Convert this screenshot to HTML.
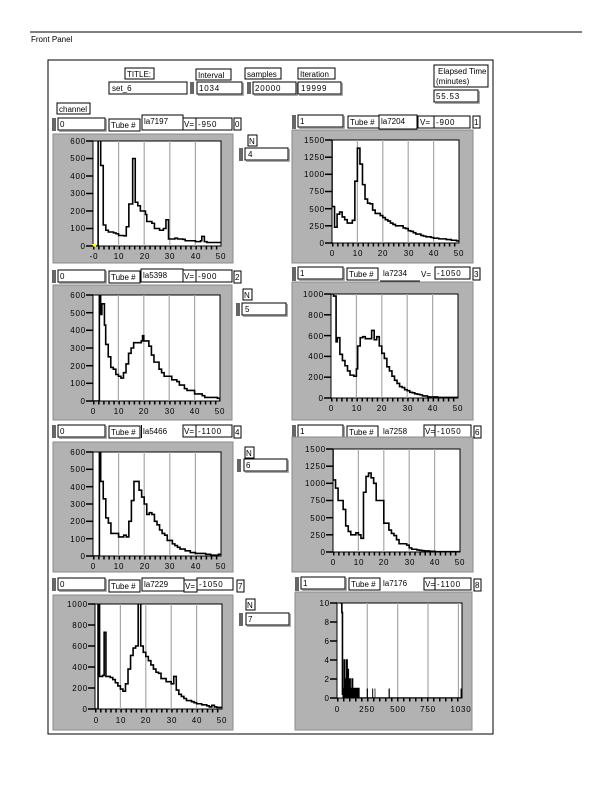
<!DOCTYPE html>
<html><head><meta charset="utf-8">
<style>
html,body{margin:0;padding:0;background:#fff;}
svg{display:block;}
text{font-family:"Liberation Sans",sans-serif;font-size:8px;fill:#000;}
.t{letter-spacing:0.8px;}
.g{fill:#b2b2b2;stroke:#8a8a8a;stroke-width:1;}
.p{fill:#fff;stroke:#000;stroke-width:1;}
.grid line{stroke:#a8a8a8;stroke-width:1.2;}
.d{fill:none;stroke:#000;stroke-width:1.6;vector-effect:non-scaling-stroke;}
.lb{fill:#fff;stroke:#000;stroke-width:1;}
.vb{fill:#fff;stroke:#000;stroke-width:1;}
.sh{fill:none;stroke:#8a8a8a;stroke-width:1.5;}
.tk line{stroke:#000;stroke-width:1.5;}
</style></head><body>
<svg width="612" height="792" viewBox="0 0 612 792" xmlns="http://www.w3.org/2000/svg">
<defs>
<clipPath id="cL1"><rect x="93" y="141" width="128" height="105"/></clipPath>
<clipPath id="cL2"><rect x="93" y="295" width="127" height="106"/></clipPath>
<clipPath id="cL3"><rect x="93" y="452" width="128" height="104"/></clipPath>
<clipPath id="cL4"><rect x="95" y="604" width="127" height="105"/></clipPath>
<clipPath id="cR1"><rect x="332" y="140" width="127" height="103"/></clipPath>
<clipPath id="cR2"><rect x="331" y="294" width="127" height="104"/></clipPath>
<clipPath id="cR3"><rect x="333" y="449" width="127" height="103"/></clipPath>
<clipPath id="cR4"><rect x="337" y="603" width="125" height="95"/></clipPath>
</defs>

<line x1="30" y1="32" x2="582" y2="32" stroke="#000" stroke-width="1"/>
<text x="31" y="42">Front Panel</text>
<rect x="48" y="60" width="445" height="674" fill="none" stroke="#000" stroke-width="1"/>

<!-- top controls -->
<rect class="lb" x="125" y="68" width="29" height="11"/><text x="127" y="77">TITLE:</text>
<rect class="vb" x="109" y="82" width="78" height="12"/><text x="112" y="91">set_6</text>
<rect class="lb" x="196" y="69" width="35" height="11"/><text x="198" y="78">Interval</text>
<rect x="190" y="82" width="4" height="12" fill="#666"/>
<rect class="vb" x="197" y="82" width="45" height="12"/><path class="sh" d="M198,95H243V83"/><text class="t" x="199" y="91">1034</text>
<rect class="lb" x="245" y="68" width="36" height="11"/><text x="247" y="77">samples</text>
<rect x="247" y="82" width="4" height="12" fill="#666"/>
<rect class="vb" x="253" y="82" width="43" height="12"/><path class="sh" d="M254,95H297V83"/><text class="t" x="255" y="91">20000</text>
<rect class="lb" x="298" y="68" width="37" height="11"/><text x="300" y="77">Iteration</text>
<rect class="vb" x="298" y="82" width="43" height="12"/><path class="sh" d="M299,95H342V83"/><text class="t" x="301" y="91">19999</text>
<rect class="lb" x="434" y="65" width="54" height="22"/><text x="438" y="74">Elapsed Time</text><text x="436" y="84">(minutes)</text>
<rect class="vb" x="434" y="90" width="44" height="12"/><path class="sh" d="M435,103H479V91"/><text class="t" x="436" y="99">55.53</text>
<rect class="lb" x="57" y="103" width="33" height="11"/><text x="59" y="112">channel</text>

<!-- N controls -->
<rect class="lb" x="248" y="135" width="9" height="11"/><text x="249" y="144">N</text>
<rect x="239" y="148" width="4" height="13" fill="#666"/><rect class="vb" x="245" y="148" width="43" height="12"/><path class="sh" d="M246,161H289V149"/><text x="248" y="157">4</text>
<rect class="lb" x="243" y="289" width="9" height="11"/><text x="244" y="298">N</text>
<rect x="236" y="303" width="4" height="13" fill="#666"/><rect class="vb" x="242" y="303" width="44" height="12"/><path class="sh" d="M243,316H287V304"/><text x="245" y="312">5</text>
<rect class="lb" x="245" y="447" width="9" height="11"/><text x="246" y="456">N</text>
<rect x="237" y="459" width="4" height="13" fill="#666"/><rect class="vb" x="244" y="459" width="43" height="12"/><path class="sh" d="M245,472H288V460"/><text x="246" y="468">6</text>
<rect class="lb" x="246" y="599" width="9" height="11"/><text x="247" y="608">N</text>
<rect x="239" y="613" width="4" height="13" fill="#666"/><rect class="vb" x="246" y="613" width="43" height="12"/><path class="sh" d="M247,626H290V614"/><text x="248" y="622">7</text>

<!-- Left control rows -->
<g>
<rect x="52" y="118" width="4" height="13" fill="#666"/><rect class="vb" x="58" y="118" width="47" height="12"/><path class="sh" d="M59,131H106V119"/><text x="60" y="127">0</text>
<rect class="lb" x="109" y="119" width="31" height="12"/><text x="111" y="128">Tube #</text>
<rect class="lb" x="142" y="115" width="41" height="15"/><text x="144" y="124">la7197</text>
<rect class="lb" x="183" y="118" width="13" height="12"/><text x="184" y="127">V=</text>
<rect class="vb" x="196" y="118" width="36" height="12"/><text class="t" x="198" y="127">-950</text>
<rect class="lb" x="234" y="118" width="7" height="12"/><text x="235" y="127">0</text>
</g>
<g>
<rect x="52" y="270" width="4" height="13" fill="#666"/><rect class="vb" x="58" y="270" width="47" height="12"/><path class="sh" d="M59,283H106V271"/><text x="60" y="279">0</text>
<rect class="lb" x="109" y="271" width="31" height="12"/><text x="111" y="280">Tube #</text>
<rect class="lb" x="141" y="269" width="42" height="13"/><text x="143" y="278">la5398</text>
<rect class="lb" x="183" y="270" width="13" height="12"/><text x="184" y="279">V=</text>
<rect class="vb" x="196" y="270" width="36" height="12"/><text class="t" x="198" y="279">-900</text>
<rect class="lb" x="234" y="271" width="7" height="12"/><text x="235" y="280">2</text>
</g>
<g>
<rect x="52" y="425" width="4" height="13" fill="#666"/><rect class="vb" x="58" y="425" width="47" height="12"/><path class="sh" d="M59,438H106V426"/><text x="60" y="434">0</text>
<rect class="lb" x="109" y="426" width="31" height="12"/><text x="111" y="435">Tube #</text>
<rect x="141" y="425" width="1" height="13" fill="#000"/><text x="143" y="434">la5466</text>
<rect class="lb" x="183" y="425" width="13" height="12"/><text x="184" y="434">V=</text>
<rect class="vb" x="196" y="425" width="36" height="12"/><text class="t" x="198" y="434">-1100</text>
<rect class="lb" x="234" y="426" width="7" height="12"/><text x="235" y="435">4</text>
</g>
<g>
<rect x="52" y="578" width="4" height="13" fill="#666"/><rect class="vb" x="58" y="578" width="47" height="12"/><path class="sh" d="M59,591H106V579"/><text x="60" y="587">0</text>
<rect class="lb" x="109" y="580" width="31" height="12"/><text x="111" y="589">Tube #</text>
<rect class="lb" x="142" y="578" width="42" height="13"/><text x="144" y="587">la7229</text>
<rect class="lb" x="184" y="580" width="13" height="12"/><text x="185" y="589">V=</text>
<rect class="vb" x="197" y="578" width="36" height="12"/><text class="t" x="199" y="587">-1050</text>
<rect class="lb" x="237" y="580" width="7" height="12"/><text x="238" y="589">7</text>
</g>

<!-- Right control rows -->
<g>
<rect x="292" y="115" width="4" height="14" fill="#666"/><rect class="vb" x="298" y="115" width="45" height="12"/><path class="sh" d="M299,128H344V116"/><text x="300" y="124">1</text>
<rect class="lb" x="348" y="116" width="31" height="12"/><text x="350" y="125">Tube #</text>
<rect class="lb" x="379" y="115" width="38" height="14"/><text x="381" y="124">la7204</text>
<rect class="lb" x="418" y="116" width="16" height="12"/><text x="420" y="125">V=</text>
<rect class="vb" x="434" y="116" width="36" height="12"/><text class="t" x="436" y="125">-900</text>
<rect class="lb" x="473" y="116" width="7" height="12"/><text x="474" y="125">1</text>
</g>
<g>
<rect x="292" y="267" width="4" height="14" fill="#666"/><rect class="vb" x="298" y="267" width="45" height="12"/><path class="sh" d="M299,280H344V268"/><text x="300" y="276">1</text>
<rect class="lb" x="347" y="268" width="31" height="12"/><text x="349" y="277">Tube #</text>
<rect x="380" y="267" width="40" height="14" fill="#fff"/><path d="M380,281H420" stroke="#000"/><text x="383" y="276">la7234</text>
<text x="421" y="277">V=</text>
<rect class="vb" x="435" y="267" width="35" height="12"/><text class="t" x="437" y="276">-1050</text>
<rect class="lb" x="473" y="268" width="7" height="12"/><text x="474" y="277">3</text>
</g>
<g>
<rect x="292" y="425" width="4" height="14" fill="#666"/><rect class="vb" x="298" y="425" width="45" height="12"/><path class="sh" d="M299,438H344V426"/><text x="300" y="434">1</text>
<rect class="lb" x="347" y="426" width="31" height="12"/><text x="349" y="435">Tube #</text>
<text x="383" y="434">la7258</text>
<rect class="lb" x="424" y="425" width="11" height="12"/><text x="425" y="434">V=</text>
<rect class="vb" x="435" y="425" width="36" height="12"/><text class="t" x="437" y="434">-1050</text>
<rect class="lb" x="474" y="426" width="7" height="12"/><text x="475" y="435">6</text>
</g>
<g>
<rect x="295" y="577" width="4" height="14" fill="#666"/><rect class="vb" x="301" y="577" width="44" height="12"/><path class="sh" d="M302,590H346V578"/><text x="303" y="586">1</text>
<rect class="lb" x="349" y="578" width="31" height="12"/><text x="351" y="587">Tube #</text>
<text x="383" y="586">la7176</text>
<rect class="lb" x="424" y="578" width="11" height="12"/><text x="425" y="587">V=</text>
<rect class="vb" x="435" y="578" width="36" height="12"/><text class="t" x="437" y="587">-1100</text>
<rect class="lb" x="474" y="579" width="7" height="12"/><text x="475" y="588">8</text>
</g>

<!-- ===== Graph L1 ===== -->
<rect class="g" x="53" y="134" width="180" height="129"/>
<rect class="p" x="93" y="141" width="128" height="105"/>
<g class="grid"><line x1="118.6" y1="141" x2="118.6" y2="246"/><line x1="144.2" y1="141" x2="144.2" y2="246"/><line x1="169.8" y1="141" x2="169.8" y2="246"/><line x1="195.4" y1="141" x2="195.4" y2="246"/></g>
<g clip-path="url(#cL1)"><path class="d" transform="translate(93,246) scale(2.56,-0.175)" d="M0,0 H2 V1000 H3 V460 H4 V120 H5 V90 H6 V80 H8 V75 H9 V70 H10 V60 H12 V58 H13 V110 H14 V240 H15.5 V500 H16.5 V250 H17.5 V230 H18.5 V200 H20.5 V180 H21 V140 H23 V130 H24 V100 H26 V90 H27.5 V100 H28.5 V150 H29.5 V40 H32 V45 H33 V40 H35 V38 H36 V30 H40 V25 H42 V30 H42.5 V55 H43.5 V25 H44.5 V20 H50"/></g>
<rect x="92" y="244" width="4" height="3" fill="#ff0"/>
<g class="tk"><line x1="86" y1="141" x2="93" y2="141"/><line x1="86" y1="158.5" x2="93" y2="158.5"/><line x1="86" y1="176" x2="93" y2="176"/><line x1="86" y1="193.5" x2="93" y2="193.5"/><line x1="86" y1="211" x2="93" y2="211"/><line x1="86" y1="228.5" x2="93" y2="228.5"/><line x1="86" y1="246" x2="93" y2="246"/></g>
<line x1="93" y1="248" x2="221" y2="248" stroke="#000" stroke-width="3" stroke-dasharray="1.5 3.62"/>
<g text-anchor="end"><text class="t" x="86" y="144">600</text><text class="t" x="86" y="161">500</text><text class="t" x="86" y="179">400</text><text class="t" x="86" y="196">300</text><text class="t" x="86" y="214">200</text><text class="t" x="86" y="231">100</text><text x="85" y="249">0</text></g>
<g text-anchor="middle"><text class="t" x="94" y="259">-0</text><text class="t" x="119" y="259">10</text><text class="t" x="145" y="259">20</text><text class="t" x="170" y="259">30</text><text class="t" x="196" y="259">40</text><text class="t" x="221" y="259">50</text></g>

<!-- ===== Graph L2 ===== -->
<rect class="g" x="53" y="285" width="179" height="135"/>
<rect class="p" x="93" y="295" width="127" height="106"/>
<g class="grid"><line x1="118.4" y1="295" x2="118.4" y2="401"/><line x1="143.8" y1="295" x2="143.8" y2="401"/><line x1="169.2" y1="295" x2="169.2" y2="401"/><line x1="194.6" y1="295" x2="194.6" y2="401"/></g>
<g clip-path="url(#cL2)"><path class="d" transform="translate(93,401) scale(2.54,-0.1767)" d="M0,0 H2.5 V1000 H3 V490 H3.5 V550 H4.5 V430 H5 V320 H6 V250 H7 V190 H8 V180 H9 V150 H10 V140 H11 V130 H12 V160 H13 V210 H14 V270 H15 V300 H16 V330 H19 V340 H19.5 V370 H20 V340 H22 V310 H23 V260 H24 V220 H26 V180 H27 V160 H28 V140 H31 V120 H33 V110 H34 V90 H36 V70 H37 V60 H40 V40 H43 V30 H44 V20 H49 V15 H50 V0"/></g>
<g class="tk"><line x1="86" y1="295" x2="93" y2="295"/><line x1="86" y1="312.7" x2="93" y2="312.7"/><line x1="86" y1="330.3" x2="93" y2="330.3"/><line x1="86" y1="348" x2="93" y2="348"/><line x1="86" y1="365.7" x2="93" y2="365.7"/><line x1="86" y1="383.3" x2="93" y2="383.3"/><line x1="86" y1="401" x2="93" y2="401"/></g>
<line x1="93" y1="403" x2="220" y2="403" stroke="#000" stroke-width="3" stroke-dasharray="1.5 3.58"/>
<g text-anchor="end"><text class="t" x="86" y="298">600</text><text class="t" x="86" y="316">500</text><text class="t" x="86" y="333">400</text><text class="t" x="86" y="351">300</text><text class="t" x="86" y="369">200</text><text class="t" x="86" y="386">100</text><text x="85" y="404">0</text></g>
<g text-anchor="middle"><text x="93" y="414">0</text><text class="t" x="119" y="414">10</text><text class="t" x="144" y="414">20</text><text class="t" x="170" y="414">30</text><text class="t" x="195" y="414">40</text><text class="t" x="220" y="414">50</text></g>

<!-- ===== Graph L3 ===== -->
<rect class="g" x="53" y="442" width="180" height="130"/>
<rect class="p" x="93" y="452" width="128" height="104"/>
<g class="grid"><line x1="118.6" y1="452" x2="118.6" y2="556"/><line x1="144.2" y1="452" x2="144.2" y2="556"/><line x1="169.8" y1="452" x2="169.8" y2="556"/><line x1="195.4" y1="452" x2="195.4" y2="556"/></g>
<g clip-path="url(#cL3)"><path class="d" transform="translate(93,556) scale(2.56,-0.1733)" d="M0,0 H2.5 V1000 H3 V430 H4 V330 H5 V220 H6 V190 H7 V130 H10 V110 H12 V120 H13 V110 H14 V200 H15 V320 H16 V430 H18 V380 H19 V340 H20 V300 H21 V240 H22 V250 H23 V240 H24 V200 H25 V180 H26 V150 H27 V130 H28 V120 H29 V90 H31 V70 H32 V60 H33 V50 H34 V40 H36 V30 H38 V20 H40 V15 H44 V10 H46 V5 H49 V10 H50"/></g>
<g class="tk"><line x1="86" y1="452" x2="93" y2="452"/><line x1="86" y1="469.3" x2="93" y2="469.3"/><line x1="86" y1="486.7" x2="93" y2="486.7"/><line x1="86" y1="504" x2="93" y2="504"/><line x1="86" y1="521.3" x2="93" y2="521.3"/><line x1="86" y1="538.7" x2="93" y2="538.7"/><line x1="86" y1="556" x2="93" y2="556"/></g>
<line x1="93" y1="558" x2="221" y2="558" stroke="#000" stroke-width="3" stroke-dasharray="1.5 3.62"/>
<g text-anchor="end"><text class="t" x="86" y="455">600</text><text class="t" x="86" y="472">500</text><text class="t" x="86" y="490">400</text><text class="t" x="86" y="507">300</text><text class="t" x="86" y="524">200</text><text class="t" x="86" y="542">100</text><text x="85" y="559">0</text></g>
<g text-anchor="middle"><text x="93" y="569">0</text><text class="t" x="119" y="569">10</text><text class="t" x="145" y="569">20</text><text class="t" x="170" y="569">30</text><text class="t" x="196" y="569">40</text><text class="t" x="221" y="569">50</text></g>

<!-- ===== Graph L4 ===== -->
<rect class="g" x="53" y="595" width="180" height="135"/>
<rect class="p" x="95" y="604" width="127" height="105"/>
<g class="grid"><line x1="120.4" y1="604" x2="120.4" y2="709"/><line x1="145.8" y1="604" x2="145.8" y2="709"/><line x1="171.2" y1="604" x2="171.2" y2="709"/><line x1="196.6" y1="604" x2="196.6" y2="709"/></g>
<g clip-path="url(#cL4)"><path class="d" transform="translate(95,709) scale(2.54,-0.105)" d="M0,0 H1.2 V2000 H1.8 V310 H3 V320 H3.6 V730 H4.3 V310 H6 V300 H7 V280 H8 V250 H9 V220 H10 V190 H11 V170 H12 V240 H13 V380 H14 V510 H15 V580 H16 V600 H17 V2000 H18 V600 H19 V540 H20 V500 H21 V460 H22 V420 H23 V380 H24 V350 H25 V340 H26 V290 H28 V260 H30 V240 H31 V310 H32 V180 H33 V140 H34 V120 H35 V100 H36 V80 H38 V70 H39 V60 H40 V50 H42 V40 H44 V30 H45 V20 H46 V35 H47 V20 H48 V15 H50"/></g>
<g class="tk"><line x1="88" y1="604" x2="95" y2="604"/><line x1="88" y1="625" x2="95" y2="625"/><line x1="88" y1="646" x2="95" y2="646"/><line x1="88" y1="667" x2="95" y2="667"/><line x1="88" y1="688" x2="95" y2="688"/><line x1="88" y1="709" x2="95" y2="709"/></g>
<line x1="95" y1="711" x2="222" y2="711" stroke="#000" stroke-width="3" stroke-dasharray="1.5 3.58"/>
<g text-anchor="end"><text class="t" x="88" y="607">1000</text><text class="t" x="88" y="628">800</text><text class="t" x="88" y="649">600</text><text class="t" x="88" y="670">400</text><text class="t" x="88" y="691">200</text><text x="87" y="712">0</text></g>
<g text-anchor="middle"><text x="96" y="723">0</text><text class="t" x="121" y="723">10</text><text class="t" x="146" y="723">20</text><text class="t" x="172" y="723">30</text><text class="t" x="197" y="723">40</text><text class="t" x="222" y="723">50</text></g>

<!-- ===== Graph R1 ===== -->
<rect class="g" x="292" y="130" width="181" height="133"/>
<rect class="p" x="332" y="140" width="127" height="103"/>
<g class="grid"><line x1="357.4" y1="140" x2="357.4" y2="243"/><line x1="382.8" y1="140" x2="382.8" y2="243"/><line x1="408.2" y1="140" x2="408.2" y2="243"/><line x1="433.6" y1="140" x2="433.6" y2="243"/></g>
<g clip-path="url(#cR1)"><path class="d" transform="translate(332,243) scale(2.54,-0.06867)" d="M0,1500 V530 H1 V230 H2 V420 H3 V450 H4 V380 H5 V340 H6 V290 H8 V330 H9 V900 H10 V1380 H11 V1150 H12 V850 H13 V640 H14 V580 H15 V570 H16 V480 H17 V430 H19 V400 H20 V370 H21 V340 H22 V320 H23 V290 H24 V270 H25 V250 H28 V220 H29 V210 H30 V180 H31 V170 H32 V150 H33 V130 H35 V110 H36 V100 H37 V90 H39 V80 H40 V70 H42 V60 H45 V50 H47 V40 H49 V30 H50"/></g>
<g class="tk"><line x1="325" y1="140" x2="332" y2="140"/><line x1="325" y1="157.2" x2="332" y2="157.2"/><line x1="325" y1="174.3" x2="332" y2="174.3"/><line x1="325" y1="191.5" x2="332" y2="191.5"/><line x1="325" y1="208.7" x2="332" y2="208.7"/><line x1="325" y1="225.8" x2="332" y2="225.8"/><line x1="325" y1="243" x2="332" y2="243"/></g>
<line x1="332" y1="245" x2="459" y2="245" stroke="#000" stroke-width="3" stroke-dasharray="1.5 3.58"/>
<g text-anchor="end"><text class="t" x="325" y="143">1500</text><text class="t" x="325" y="160">1250</text><text class="t" x="325" y="177">1000</text><text class="t" x="325" y="194">750</text><text class="t" x="325" y="212">500</text><text class="t" x="325" y="229">250</text><text x="324" y="246">0</text></g>
<g text-anchor="middle"><text x="332" y="256">0</text><text class="t" x="358" y="256">10</text><text class="t" x="383" y="256">20</text><text class="t" x="409" y="256">30</text><text class="t" x="434" y="256">40</text><text class="t" x="459" y="256">50</text></g>

<!-- ===== Graph R2 ===== -->
<rect class="g" x="292" y="282" width="181" height="138"/>
<rect class="p" x="331" y="294" width="127" height="104"/>
<g class="grid"><line x1="356.4" y1="294" x2="356.4" y2="398"/><line x1="381.8" y1="294" x2="381.8" y2="398"/><line x1="407.2" y1="294" x2="407.2" y2="398"/><line x1="432.6" y1="294" x2="432.6" y2="398"/></g>
<g clip-path="url(#cR2)"><path class="d" transform="translate(331,398) scale(2.54,-0.104)" d="M0,1000 H1 V980 H2 V540 H2.5 V580 H3.5 V420 H4.5 V360 H5.5 V310 H6.5 V260 H7.5 V220 H9 V210 H10 V280 H10.5 V500 H11.5 V580 H12.5 V590 H13.5 V570 H16 V650 H17 V560 H18 V590 H19 V500 H20 V430 H21 V380 H22 V300 H23 V260 H24 V210 H25 V170 H26 V140 H27 V110 H28 V100 H29 V80 H30 V70 H31 V55 H32 V50 H33 V40 H34 V35 H35 V30 H36 V20 H38 V10 H42 V5 H50"/></g>
<g class="tk"><line x1="324" y1="294" x2="331" y2="294"/><line x1="324" y1="314.8" x2="331" y2="314.8"/><line x1="324" y1="335.6" x2="331" y2="335.6"/><line x1="324" y1="356.4" x2="331" y2="356.4"/><line x1="324" y1="377.2" x2="331" y2="377.2"/><line x1="324" y1="398" x2="331" y2="398"/></g>
<line x1="331" y1="400" x2="458" y2="400" stroke="#000" stroke-width="3" stroke-dasharray="1.5 3.58"/>
<g text-anchor="end"><text class="t" x="324" y="297">1000</text><text class="t" x="324" y="318">800</text><text class="t" x="324" y="339">600</text><text class="t" x="324" y="359">400</text><text class="t" x="324" y="380">200</text><text x="323" y="401">0</text></g>
<g text-anchor="middle"><text x="331" y="411">0</text><text class="t" x="357" y="411">10</text><text class="t" x="382" y="411">20</text><text class="t" x="408" y="411">30</text><text class="t" x="433" y="411">40</text><text class="t" x="458" y="411">50</text></g>

<!-- ===== Graph R3 ===== -->
<rect class="g" x="292" y="437" width="181" height="135"/>
<rect class="p" x="333" y="449" width="127" height="103"/>
<g class="grid"><line x1="358.4" y1="449" x2="358.4" y2="552"/><line x1="383.8" y1="449" x2="383.8" y2="552"/><line x1="409.2" y1="449" x2="409.2" y2="552"/><line x1="434.6" y1="449" x2="434.6" y2="552"/></g>
<g clip-path="url(#cR3)"><path class="d" transform="translate(333,552) scale(2.54,-0.06867)" d="M0,1500 V1050 H1 V930 H2 V750 H4 V620 H5 V380 H6 V300 H7 V250 H9 V280 H10 V250 H11 V200 H12 V870 H13 V1100 H14 V1150 H15 V1080 H16 V1000 H17 V750 H20 V420 H22 V320 H23 V270 H24 V240 H25 V180 H26 V120 H29 V100 H30 V60 H31 V40 H33 V30 H34 V25 H35 V20 H36 V15 H38 V10 H40 V5 H50"/></g>
<g class="tk"><line x1="326" y1="449" x2="333" y2="449"/><line x1="326" y1="466.2" x2="333" y2="466.2"/><line x1="326" y1="483.3" x2="333" y2="483.3"/><line x1="326" y1="500.5" x2="333" y2="500.5"/><line x1="326" y1="517.7" x2="333" y2="517.7"/><line x1="326" y1="534.8" x2="333" y2="534.8"/><line x1="326" y1="552" x2="333" y2="552"/></g>
<line x1="333" y1="554" x2="460" y2="554" stroke="#000" stroke-width="3" stroke-dasharray="1.5 3.58"/>
<g text-anchor="end"><text class="t" x="326" y="452">1500</text><text class="t" x="326" y="469">1250</text><text class="t" x="326" y="486">1000</text><text class="t" x="326" y="503">750</text><text class="t" x="326" y="521">500</text><text class="t" x="326" y="538">250</text><text x="325" y="555">0</text></g>
<g text-anchor="middle"><text x="333" y="565">0</text><text class="t" x="359" y="565">10</text><text class="t" x="384" y="565">20</text><text class="t" x="410" y="565">30</text><text class="t" x="435" y="565">40</text><text class="t" x="460" y="565">50</text></g>

<!-- ===== Graph R4 ===== -->
<rect class="g" x="295" y="592" width="177" height="138"/>
<rect class="p" x="337" y="603" width="125" height="95"/>
<g class="grid"><line x1="367.3" y1="603" x2="367.3" y2="698"/><line x1="397.7" y1="603" x2="397.7" y2="698"/><line x1="428" y1="603" x2="428" y2="698"/><line x1="458.4" y1="603" x2="458.4" y2="698"/></g>
<g clip-path="url(#cR4)">
<g transform="translate(337,698) scale(0.12136,-9.5)">
<path class="d" d="M30,11 V10 H40 V9 H45 V0.4 H50 V1 H60 V4 H63 V1 H70 V2 H73 V1 H80 V4 H83 V1 H90 V3 H93 V1 H105 V2 H108 V1 H125 V2 H128 V1 H180 V0 H1030"/>
<rect x="45" y="0" width="135" height="1" fill="#000"/>
<rect x="60" y="0" width="5" height="4" fill="#000"/>
<rect x="78" y="0" width="5" height="4" fill="#000"/>
<rect x="90" y="0" width="4" height="3" fill="#000"/>
<rect x="245" y="0" width="10" height="1" fill="#000"/>
<rect x="290" y="0" width="8" height="1" fill="#000"/>
<rect x="310" y="0" width="6" height="1" fill="#000"/>
<rect x="425" y="0" width="10" height="1" fill="#000"/>
<rect x="1018" y="0" width="8" height="1" fill="#000"/>
</g></g>
<g class="tk"><line x1="330" y1="603" x2="337" y2="603"/><line x1="330" y1="622" x2="337" y2="622"/><line x1="330" y1="641" x2="337" y2="641"/><line x1="330" y1="660" x2="337" y2="660"/><line x1="330" y1="679" x2="337" y2="679"/><line x1="330" y1="698" x2="337" y2="698"/></g>
<line x1="337" y1="700" x2="462" y2="700" stroke="#000" stroke-width="3" stroke-dasharray="1.5 4.5"/>
<g text-anchor="end"><text class="t" x="330" y="606">10</text><text x="329" y="625">8</text><text x="329" y="644">6</text><text x="329" y="663">4</text><text x="329" y="682">2</text><text x="329" y="701">0</text></g>
<g text-anchor="middle"><text x="337" y="712">0</text><text class="t" x="367" y="712">250</text><text class="t" x="398" y="712">500</text><text class="t" x="428" y="712">750</text><text class="t" x="461" y="712">1030</text></g>
</svg>
</body></html>
